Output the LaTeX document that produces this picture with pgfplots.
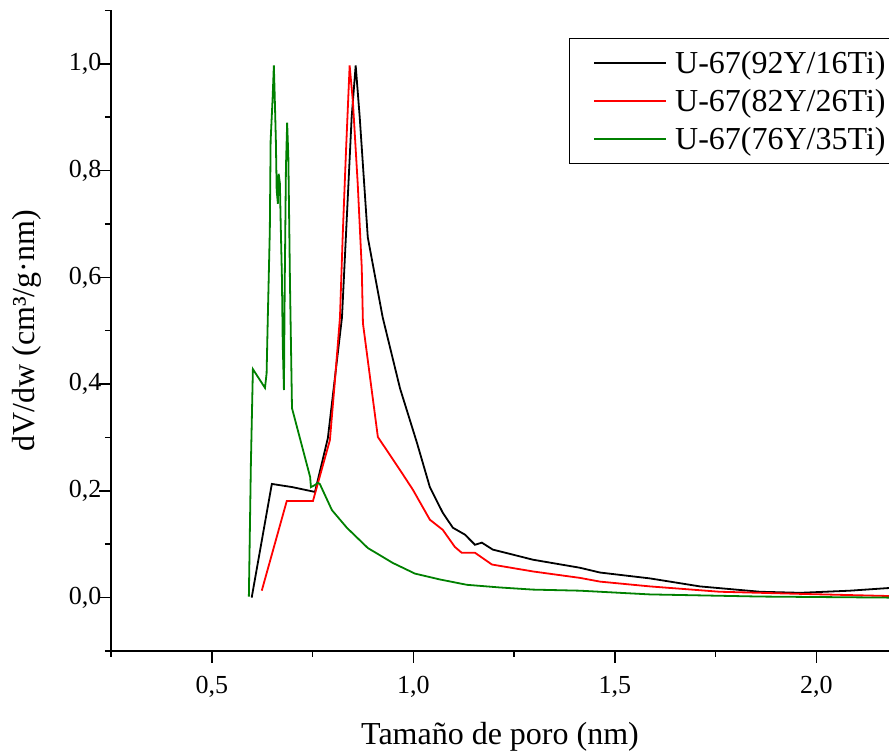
\documentclass[border=0pt]{standalone}
\usepackage{fontspec}
\setmainfont{Liberation Serif}
\usepackage{pgfplots}
\pgfplotsset{compat=1.18}
\usetikzlibrary{calc}
\definecolor{dgreen}{RGB}{0,128,0}
\begin{document}
\begin{tikzpicture}
\begin{axis}[
  name=ax,
  scale only axis,
  width=778pt, height=640.5pt,
  xmin=0.25, xmax=2.18,
  ymin=-0.1, ymax=1.1,
  axis x line=bottom, axis y line=left,
  axis line style={-, line width=1.5pt},
  xtick={0.5,1.0,1.5,2.0},
  minor xtick={0.25,0.75,1.25,1.75},
  ytick={0,0.2,0.4,0.6,0.8,1.0},
  minor ytick={-0.1,0.1,0.3,0.5,0.7,0.9,1.1},
  xtick align=outside, ytick align=outside,
  major tick length=12pt, minor tick length=6pt,
  tick style={line width=1.5pt, black},
  /pgf/number format/assume math mode=true,
  /pgf/number format/use comma,
  /pgf/number format/fixed,
  /pgf/number format/fixed zerofill,
  /pgf/number format/precision=1,
  tick label style={font=\fontsize{26}{30}\selectfont},
  xticklabel style={yshift=-10pt},
  yticklabel style={xshift=6pt},
  xlabel={Tamaño de poro (nm)},
  ylabel={dV/dw (cm³/g·nm)},
  label style={font=\fontsize{32}{36}\selectfont},
  xlabel style={at={(axis description cs:0.5,0)}, anchor=base, yshift=-94pt},
  ylabel style={at={(axis description cs:0,0.5)}, anchor=base, yshift=76pt},
  legend cell align=left,
  legend style={at={(1,1)}, anchor=north east, yshift=-27.5pt, xshift=23pt,
    draw=black, line width=0.8pt, font=\fontsize{32}{34}\selectfont,
    inner xsep=24pt, inner ysep=11pt, row sep=10pt,
    /tikz/every odd column/.append style={column sep=6pt}},
  legend image code/.code={\draw[#1, line width=2pt] (0pt,0pt) -- (72pt,0pt);},
  clip=true,
]
\addplot[black, line width=1.8pt] coordinates {
(0.599,0.0) (0.649,0.213) (0.700,0.207) (0.756,0.198) (0.788,0.299)
(0.823,0.525) (0.835,0.712) (0.847,0.90) (0.857,0.997) (0.867,0.90)
(0.887,0.675) (0.924,0.525) (0.967,0.392) (1.009,0.29) (1.041,0.207)
(1.073,0.159) (1.098,0.131) (1.128,0.118) (1.153,0.099) (1.170,0.103)
(1.197,0.090) (1.297,0.071) (1.413,0.056) (1.463,0.047) (1.587,0.036)
(1.711,0.021) (1.86,0.011) (1.96,0.009) (2.083,0.013) (2.18,0.018)
};
\addlegendentry{U-67(92Y/16Ti)}
\addplot[red, line width=1.8pt] coordinates {
(0.624,0.013) (0.686,0.181) (0.751,0.181) (0.793,0.295) (0.805,0.402)
(0.818,0.525) (0.825,0.682) (0.833,0.837) (0.842,0.997) (0.850,0.93)
(0.862,0.776) (0.872,0.619) (0.875,0.514) (0.912,0.301) (0.967,0.239)
(0.999,0.202) (1.041,0.146) (1.073,0.127) (1.103,0.095) (1.120,0.084)
(1.153,0.084) (1.195,0.062) (1.297,0.049) (1.413,0.037) (1.463,0.030)
(1.587,0.021) (1.76,0.011) (1.96,0.007) (2.18,0.003)
};
\addlegendentry{U-67(82Y/26Ti)}
\addplot[dgreen, line width=1.8pt] coordinates {
(0.592,0.002) (0.597,0.25) (0.602,0.428) (0.632,0.393) (0.636,0.42)
(0.639,0.525) (0.644,0.688) (0.646,0.856) (0.651,0.937) (0.654,0.997)
(0.656,0.944) (0.659,0.856) (0.661,0.763) (0.664,0.738) (0.666,0.794)
(0.669,0.776) (0.671,0.70) (0.674,0.60) (0.676,0.477) (0.679,0.389)
(0.681,0.589) (0.684,0.806) (0.687,0.89) (0.690,0.824) (0.694,0.589)
(0.699,0.355) (0.744,0.226) (0.746,0.207) (0.756,0.211) (0.763,0.215)
(0.768,0.213) (0.798,0.164) (0.835,0.131) (0.887,0.093) (0.949,0.065)
(1.004,0.045) (1.066,0.034) (1.133,0.024) (1.215,0.019) (1.297,0.015)
(1.413,0.013) (1.587,0.006) (1.86,0.002) (2.18,0.0)
};
\addlegendentry{U-67(76Y/35Ti)}
\end{axis}
\pgfresetboundingbox
\useasboundingbox ($(ax.south west)+(-111pt,-100pt)$) rectangle ($(ax.north east)+(0pt,10.5pt)$);
\end{tikzpicture}
\end{document}
